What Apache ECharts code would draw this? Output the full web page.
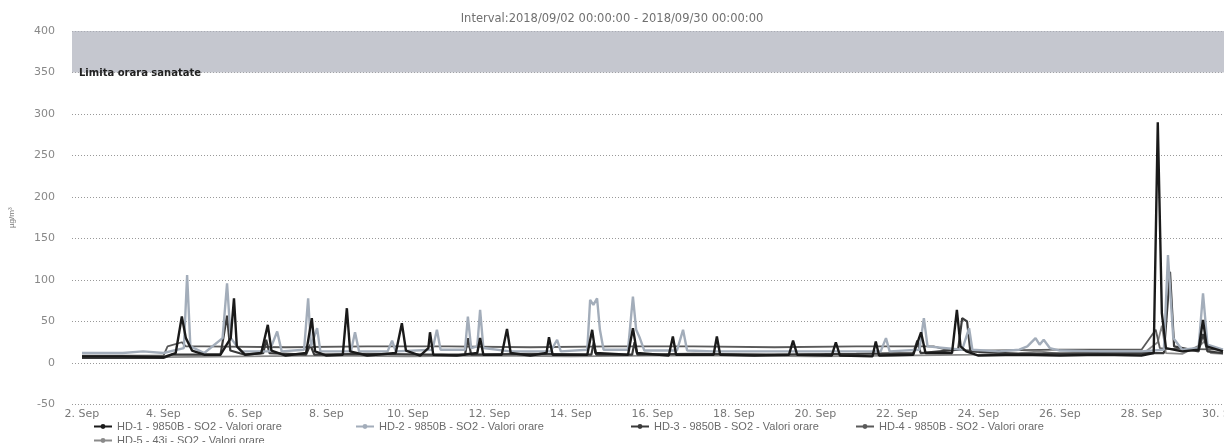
<!DOCTYPE html>
<html>
<head>
<meta charset="utf-8">
<script src="https://cdn.jsdelivr.net/npm/echarts@6/dist/echarts.min.js"></script>
<style>
html,body{margin:0;padding:0;background:#fff;}
#chart{width:1224px;height:443px;}
</style>
</head>
<body>
<div id="chart"></div>
<script>
// Days counted from 2018-09-02 00:00
var tickDays = [0,2,4,6,8,10,12,14,16,18,20,22,24,26,28];
var seriesNames = [
  'HD-1 - 9850B - SO2 - Valori orare',
  'HD-2 - 9850B - SO2 - Valori orare',
  'HD-3 - 9850B - SO2 - Valori orare',
  'HD-4 - 9850B - SO2 - Valori orare',
  'HD-5 - 43i - SO2 - Valori orare'
];
var titleText = 'Interval:2018/09/02 00:00:00 - 2018/09/30 00:00:00';
var limitLabel = 'Limita orara sanatate';
var limitBand = [350, 400];

var hd1Days = [0,1,2.0,2.3,2.45,2.55,2.7,3.0,3.4,3.65,3.73,3.8,4.0,4.4,4.56,4.65,5.0,5.5,5.64,5.72,6.0,6.4,6.5,6.58,7.0,7.7,7.85,7.95,8.3,8.5,8.54,8.62,9.2,9.7,9.77,9.85,10.3,10.43,10.52,11.0,11.4,11.46,11.55,12.4,12.52,12.6,13.4,13.52,13.62,14.4,14.5,14.58,15.5,15.58,15.66,16.5,17.35,17.45,17.55,18.4,18.5,18.6,19.4,19.48,19.56,20.4,20.59,20.7,21.35,21.47,21.56,21.7,22,23,24,25,26,26.3,26.4,26.5,26.6,27,27.4,27.51,27.6,28];
var hd1Values = [8,8,7,12,56,30,15,10,10,30,78,20,10,12,46,15,9,12,54,14,9,10,66,14,9,12,48,15,9,18,37,10,9,12,30,10,10,41,12,9,12,31,10,10,40,12,10,42,12,9,32,10,10,32,10,9,10,27,10,9,25,9,8,26,9,10,37,12,12,64,20,14,9,10,9,10,9,12,290,60,18,14,16,52,20,14];

var hd2Days = [0,1,1.5,2.0,2.5,2.58,2.66,3.0,3.45,3.56,3.65,3.9,4.6,4.79,4.9,5.45,5.55,5.62,5.77,5.85,6.6,6.7,6.8,7.5,7.61,7.7,8.6,8.71,8.8,9.4,9.47,9.55,9.7,9.77,9.85,10.5,11.5,11.66,11.75,12.4,12.47,12.55,12.64,12.71,12.8,13.4,13.52,13.6,13.69,13.8,14.6,14.75,14.85,15.5,17,19.6,19.73,19.82,20.55,20.66,20.75,21.6,21.77,21.85,22.5,23.0,23.2,23.4,23.5,23.6,23.75,24.0,25,26,26.55,26.65,26.78,27,27.4,27.51,27.62,28];
var hd2Values = [12,12,14,12,18,106,20,12,30,96,30,14,14,38,14,16,78,20,42,14,14,37,14,14,27,14,16,40,16,16,56,18,20,64,18,14,14,28,14,16,76,70,78,40,16,16,80,40,30,15,15,40,15,14,14,14,30,14,16,54,20,16,42,16,14,16,20,30,22,28,18,15,14,14,16,130,30,16,18,84,22,16];

var hd3Days = [0,2.0,2.2,3.4,3.56,3.64,4.0,4.45,4.52,4.6,5.5,5.6,5.7,7.0,8.5,9.4,9.47,9.55,11.0,12.5,12.56,12.62,13.5,13.56,13.63,15.0,17.0,19.0,20.4,20.5,20.58,21.5,21.6,21.72,21.8,23.0,25.0,26.55,26.7,26.8,27.4,27.51,27.62,28];
var hd3Values = [6,6,10,10,57,15,10,12,28,12,10,22,10,11,10,10,30,10,11,10,25,10,10,25,10,11,10,11,12,27,12,16,54,50,14,11,12,12,110,20,14,35,14,12];

var hd4Days = [0,1,2.0,2.1,2.45,2.55,3,5,7,9,11,13,15,17,19,20.9,21.2,22,24,26,26.35,26.45,26.6,27,28];
var hd4Values = [9,9,9,20,25,20,20,19,20,20,19,20,20,19,20,20,16,15,16,16,40,18,17,17,16];

var hd5Days = [0,2,4,6,8,10,12,14,16,18,20,22,23,23.5,24,26,26.4,26.5,26.6,27,27.45,27.55,27.7,28];
var hd5Values = [7,7,8,9,8,9,8,9,9,8,9,10,12,14,11,10,25,45,12,11,22,26,12,11];

function pairs(days, vals){ return days.map(function(d,i){ return [d, vals[i]]; }); }

var colors = ['#1a1a1a', '#a3adba', '#3a3a3a', '#5a5a5a', '#8a8a8a'];
var widths = [2.4, 2.4, 2.2, 1.8, 1.8];
var dataSets = [pairs(hd1Days,hd1Values), pairs(hd2Days,hd2Values), pairs(hd3Days,hd3Values), pairs(hd4Days,hd4Values), pairs(hd5Days,hd5Values)];
var drawOrder = [4,3,2,1,0];

var series = drawOrder.map(function(i, k){
  return {
    name: seriesNames[i],
    type: 'line',
    data: dataSets[i],
    symbol: 'circle',
    symbolSize: 5,
    showSymbol: false,
    lineStyle: {color: colors[i], width: widths[i]},
    itemStyle: {color: colors[i]},
    z: 3 + k
  };
});
series.push({
  type: 'line',
  data: [],
  markArea: {
    silent: true,
    itemStyle: {color: 'rgba(175,178,188,0.72)'},
    label: {
      show: true, position: 'insideBottomLeft', offset: [2, 11],
      color: '#222', fontSize: 10, fontWeight: 'bold', fontFamily: 'DejaVu Sans'
    },
    data: [[{yAxis: limitBand[0], name: limitLabel}, {yAxis: limitBand[1]}]]
  }
});

var legendLeft = [93, 355, 630, 855, 93];
var legendTop = [421, 421, 421, 421, 435];
var legends = seriesNames.map(function(n, i){
  return {
    data: [n], left: legendLeft[i], top: legendTop[i],
    itemWidth: 18, itemHeight: 6, itemGap: 4,
    textStyle: {color: '#6a6a6a', fontSize: 11, fontFamily: 'Liberation Sans'},
    padding: 0
  };
});

var chart = echarts.init(document.getElementById('chart'));
chart.setOption({
  animation: false,
  backgroundColor: '#fff',
  title: {
    text: titleText, left: 'center', top: 8,
    textStyle: {color: '#707070', fontSize: 11.5, fontWeight: 'normal', fontFamily: 'DejaVu Sans'}
  },
  legend: legends,
  grid: {left: 72, right: 0, top: 31, bottom: 38.5, containLabel: false, outerBoundsMode: 'none'},
  xAxis: {
    type: 'value', min: -0.245, max: 28.025,
    axisLine: {show: false}, axisTick: {show: false}, splitLine: {show: false},
    axisLabel: {
      customValues: tickDays, color: '#777', fontSize: 11, margin: 4,
      fontFamily: 'DejaVu Sans',
      formatter: function(v){ return (2 + Math.round(v)) + '. Sep'; }
    }
  },
  yAxis: {
    type: 'value', min: -50, max: 400, interval: 50,
    name: 'µg/m³', nameLocation: 'middle', nameRotate: 90, nameGap: 56,
    nameTextStyle: {color: '#777', fontSize: 8},
    axisLine: {show: false}, axisTick: {show: false},
    axisLabel: {color: '#888', fontSize: 11, margin: 17, fontFamily: 'DejaVu Sans'},
    splitLine: {lineStyle: {type: [1, 2], color: '#999', width: 1}}
  },
  series: series
});
</script>
</body>
</html>
